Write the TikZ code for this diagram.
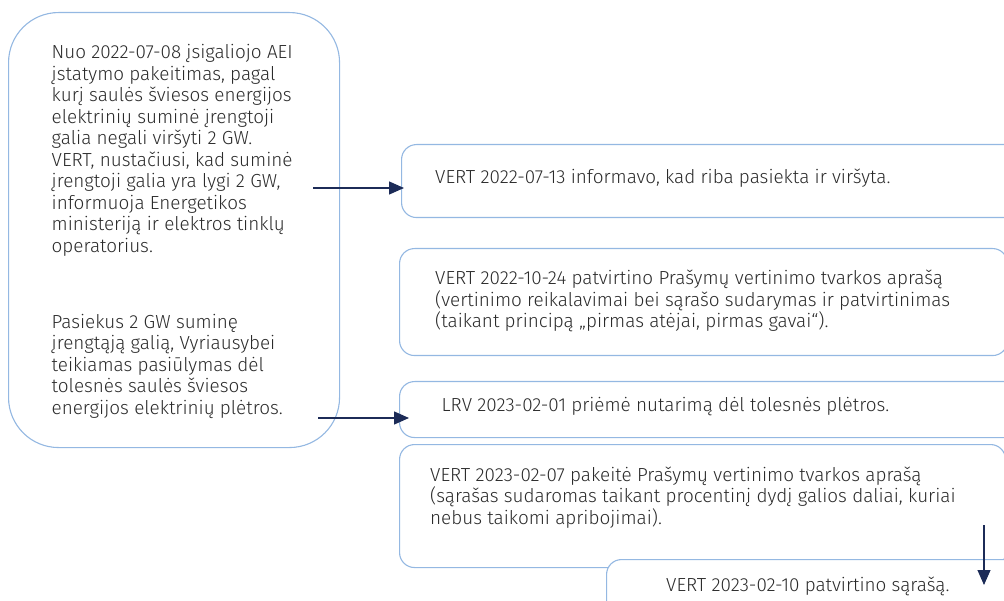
\documentclass[tikz,border=0pt]{standalone}
\usepackage{fontspec}
\setmainfont{Fira Sans Light}
\usetikzlibrary{arrows.meta}
\definecolor{boxLine}{HTML}{94B8E2}
\definecolor{arrowNavy}{HTML}{1C2B57}
\definecolor{textGray}{HTML}{2B2B2B}

\begin{document}
\begin{tikzpicture}
[x=1pt,y=-1pt,
  boxDecorate/.style={draw=boxLine,line width=1.1pt,fill=white,rounded corners=15pt,anchor=north west,inner sep=0pt},%
  textDecorate/.style={anchor=base west,align=left,inner sep=0pt,text=textGray,font={\fontsize{18.9}{21.5}\selectfont}},%
  arrowDecorate/.style={-{Triangle[length=15pt,width=13pt]},line width=1.4pt,draw=arrowNavy,fill=arrowNavy}]
\useasboundingbox (0,0) rectangle (1004,601);
%% left box
\node (src) at (8,12) [boxDecorate,rounded corners=50pt,minimum width=331pt,minimum height=435pt] {};
%% right boxes
\foreach \nodename/\x/\y/\w/\h in {
  box1/401/144/630/73, box2/399/248/608/107, box3/399/381/630/56,
  box4/399/444/606/123, box5/606/559/420/80}
{
  \node (\nodename) at (\x,\y) [boxDecorate,minimum width=\w pt,minimum height=\h pt] {};
}
%% texts (y = baseline of the last line)
\foreach \nodename/\x/\y/\txt in {
  srcA/51.5/252.5/{Nuo 2022-07-08 įsigaliojo AEI\\įstatymo pakeitimas, pagal\\kurį saulės šviesos energijos\\elektrinių suminė įrengtoji\\galia negali viršyti 2 GW.\\VERT, nustačiusi, kad suminė\\įrengtoji galia yra lygi 2 GW,\\informuoja Energetikos\\ministeriją ir elektros tinklų\\operatorius.},
  srcB/51.5/414/{Pasiekus 2 GW suminę\\įrengtąją galią, Vyriausybei\\teikiamas pasiūlymas dėl\\tolesnės saulės šviesos\\energijos elektrinių plėtros.},
  text1/435/184/{VERT 2022-07-13 informavo, kad riba pasiekta ir viršyta.},
  text2/435/328/{VERT 2022-10-24 patvirtino Prašymų vertinimo tvarkos aprašą\\(vertinimo reikalavimai bei sąrašo sudarymas ir patvirtinimas\\(taikant principą „pirmas atėjai, pirmas gavai“).},
  text3/441.5/411.7/{LRV 2023-02-01 priėmė nutarimą dėl tolesnės plėtros.},
  text4/430/524/{VERT 2023-02-07 pakeitė Prašymų vertinimo tvarkos aprašą\\(sąrašas sudaromas taikant procentinį dydį galios daliai, kuriai\\nebus taikomi apribojimai).},
  text5/666/591.7/{VERT 2023-02-10 patvirtino sąrašą.}}
{
  \node (\nodename) at (\x,\y) [textDecorate] {\txt};
}
%% arrows
\coordinate (from1) at (313,188);
\coordinate (from2) at (318,418);
\coordinate (from3) at (984,525);
\coordinate (to3) at (984,585);
\draw[arrowDecorate] (from1) -- ([xshift=3pt]from1 -| box1.west);
\draw[arrowDecorate] (from2) -- ([xshift=10pt]from2 -| box3.west);
\draw[arrowDecorate,line width=1.1pt] (from3) -- (to3);
\end{tikzpicture}
\end{document}
